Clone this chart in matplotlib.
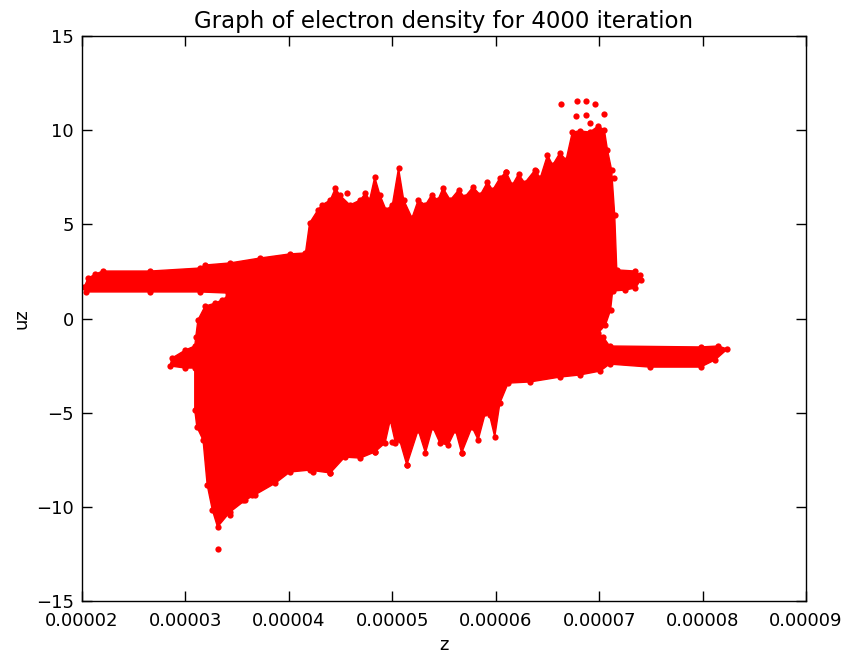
import matplotlib
matplotlib.use('Agg')
import matplotlib.pyplot as plt
from matplotlib.ticker import FormatStrFormatter, MultipleLocator
import numpy as np

# Outline of the particle cloud in phase space (z, uz).
# Upper edge, left to right (includes both beams on the right side)
top_z = [2.02e-5, 2.06e-5, 2.13e-5, 2.20e-5, 2.66e-5, 3.14e-5, 3.19e-5, 3.43e-5,
         3.72e-5, 4.01e-5, 4.16e-5, 4.20e-5, 4.28e-5, 4.32e-5, 4.40e-5, 4.45e-5,
         4.49e-5, 4.59e-5, 4.69e-5, 4.74e-5, 4.78e-5, 4.83e-5, 4.88e-5, 4.94e-5,
         5.00e-5, 5.06e-5, 5.11e-5, 5.19e-5, 5.25e-5, 5.32e-5, 5.38e-5, 5.44e-5,
         5.49e-5, 5.56e-5, 5.64e-5, 5.70e-5, 5.78e-5, 5.85e-5, 5.92e-5, 5.97e-5,
         6.04e-5, 6.10e-5, 6.16e-5, 6.22e-5, 6.28e-5, 6.38e-5, 6.43e-5, 6.50e-5,
         6.55e-5, 6.62e-5, 6.68e-5, 6.74e-5, 6.81e-5, 6.91e-5, 6.99e-5,
         7.05e-5, 7.08e-5, 7.12e-5, 7.15e-5, 7.17e-5, 7.35e-5, 7.39e-5, 7.40e-5,
         7.35e-5, 7.25e-5, 7.13e-5, 7.11e-5, 7.06e-5, 6.99e-5, 7.04e-5, 7.10e-5,
         7.98e-5, 8.15e-5, 8.24e-5]
top_uz = [1.67, 2.15, 2.36, 2.52, 2.52, 2.68, 2.84, 2.95,
          3.21, 3.43, 3.48, 5.07, 5.76, 6.03, 6.29, 6.93,
          6.56, 6.03, 6.29, 6.66, 6.29, 7.51, 6.56, 5.76,
          6.03, 7.99, 6.29, 5.34, 6.29, 6.03, 6.56, 6.29,
          6.93, 6.29, 6.82, 6.45, 6.98, 6.56, 7.25, 6.82,
          7.46, 7.78, 7.09, 7.67, 7.20, 7.89, 7.46, 8.68,
          8.15, 8.79, 8.42, 9.90, 9.96, 9.90, 10.22,
          10.01, 8.95, 7.89, 5.50, 2.58, 2.52, 2.31, 2.04,
          1.62, 1.51, 1.46, 0.45, -0.35, -0.77, -0.98, -1.46,
          -1.51, -1.46, -1.62]

# Lower edge, right to left (ends at the bottom of the left beam)
bot_z = [8.12e-5, 7.98e-5, 7.49e-5, 7.10e-5, 7.01e-5, 6.81e-5, 6.62e-5, 6.33e-5,
         6.12e-5, 6.04e-5, 5.99e-5, 5.94e-5, 5.90e-5, 5.83e-5, 5.77e-5, 5.67e-5,
         5.61e-5, 5.54e-5, 5.46e-5, 5.39e-5, 5.32e-5, 5.25e-5, 5.14e-5, 5.07e-5,
         5.03e-5, 4.98e-5, 4.93e-5, 4.83e-5, 4.69e-5, 4.54e-5, 4.40e-5, 4.20e-5,
         4.01e-5, 3.87e-5, 3.67e-5, 3.58e-5, 3.43e-5, 3.31e-5, 3.26e-5, 3.21e-5,
         3.17e-5, 3.11e-5, 3.09e-5, 3.09e-5, 3.00e-5, 2.85e-5, 2.87e-5, 3.00e-5,
         3.09e-5, 3.10e-5, 3.12e-5, 3.19e-5, 3.29e-5, 3.35e-5, 3.41e-5, 3.41e-5,
         3.14e-5, 2.66e-5, 2.04e-5]
bot_uz = [-2.20, -2.58, -2.58, -2.42, -2.79, -3.00, -3.11, -3.37,
          -3.43, -4.49, -6.29, -5.13, -5.00, -6.45, -5.76, -7.14,
          -5.92, -6.72, -6.61, -5.76, -7.14, -5.92, -7.78, -6.45,
          -6.61, -5.39, -6.61, -7.09, -7.41, -7.36, -8.20, -8.05,
          -8.15, -8.74, -9.37, -9.64, -10.28, -11.07, -10.17, -8.84,
          -6.45, -5.76, -4.86, -2.63, -2.63, -2.52, -2.10, -1.67,
          -1.46, -0.98, -0.08, 0.66, 0.82, 0.98, 1.19, 1.35,
          1.41, 1.41, 1.41]

# Stray particles outside the dense cloud
stray_z = [6.63e-5, 6.79e-5, 6.87e-5, 6.96e-5, 6.78e-5, 6.87e-5, 7.05e-5, 6.91e-5,
           7.14e-5, 4.56e-5, 6.10e-5, 6.39e-5,
           3.31e-5, 3.43e-5, 3.64e-5, 3.70e-5, 3.56e-5, 4.01e-5, 4.23e-5, 4.40e-5,
           4.83e-5, 5.00e-5, 5.14e-5, 5.67e-5]
stray_uz = [11.39, 11.55, 11.55, 11.39, 10.75, 10.81, 10.86, 10.38,
            7.46, 6.66, 7.78, 7.83,
            -12.24, -10.44, -9.37, -9.00, -9.64, -7.97, -8.15, -8.20,
            -7.09, -6.56, -7.78, -7.14]

outline_z = np.r_[top_z, bot_z]
outline_uz = np.r_[top_uz, bot_uz]

fig = plt.figure(figsize=(8.51, 6.52), dpi=100)
ax = fig.add_axes([0.0964, 0.0782, 0.8508, 0.8666])

ax.fill(outline_z, outline_uz, color='red', linewidth=1.0, edgecolor='red')
ax.plot(outline_z, outline_uz, 'o', color='red', markersize=4.5, markeredgewidth=0)
ax.plot(stray_z, stray_uz, 'o', color='red', markersize=4.5, markeredgewidth=0)

ax.set_xlim(0.00002, 0.00009)
ax.set_ylim(-15, 15)
ax.xaxis.set_major_locator(MultipleLocator(0.00001))
ax.xaxis.set_major_formatter(FormatStrFormatter('%.5f'))
ax.yaxis.set_major_locator(MultipleLocator(5))
ax.tick_params(direction='in', top=True, right=True, length=7, width=1,
               labelsize=13, pad=6)
ax.tick_params(axis='x', pad=8)
for s in ax.spines.values():
    s.set_linewidth(1.0)

ax.set_xlabel('z', fontsize=13)
ax.set_ylabel('uz', fontsize=13)
ax.set_title('Graph of electron density for 4000 iteration', fontsize=16.5)

fig.savefig('out.png', dpi=100)
